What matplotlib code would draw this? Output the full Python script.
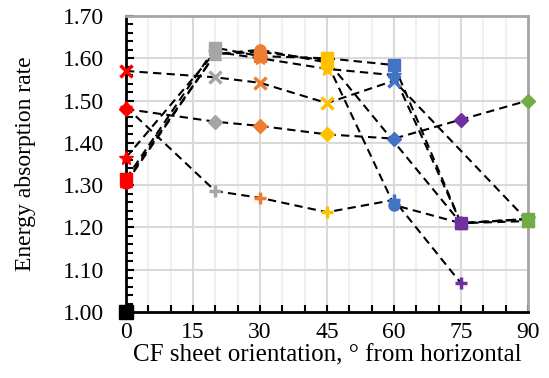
import matplotlib

matplotlib.use("Agg")
import matplotlib.pyplot as plt
import numpy as np
from matplotlib.ticker import MultipleLocator

# CF sheet orientation (deg from horizontal) and the colour used at each one
angles = [0, 20, 30, 45, 60, 75, 90]
angle_colours = ["#FF0000", "#A5A5A5", "#ED7D31", "#FFC000", "#4472C4", "#7030A0", "#70AD47"]

# energy absorption rate per configuration (None = no value)
diamond = [1.48, 1.45, 1.44, 1.42, 1.41, 1.455, 1.50]
square = [1.315, 1.625, 1.605, 1.60, 1.584, 1.21, 1.22]
triangle = [1.31, 1.61, 1.615, 1.595, None, 1.21, 1.215]
cross = [1.57, 1.555, 1.542, 1.494, 1.547, None, 1.215]
star = [1.365, 1.615, 1.60, 1.575, 1.56, 1.21, 1.22]
circle = [1.305, 1.61, 1.62, 1.59, 1.253, 1.21, 1.22]
plus = [1.485, 1.286, 1.27, 1.236, 1.265, 1.068, None]
reference = [1.00]

series = [
    (diamond, "D", 7),
    (square, "s", 8),
    (triangle, "^", 8),
    (cross, "x", 8),
    (star, "*", 10),
    (circle, "o", 8),
    (plus, "+", 8),
]

plt.rcParams["font.family"] = "Liberation Serif"

fig = plt.figure(figsize=(5.49, 3.78), dpi=100)
ax = fig.add_axes([0.2295, 0.1746, 0.7322, 0.7831])

for values, marker, size in series:
    xs = [a for a, v in zip(angles, values) if v is not None]
    ys = [v for v in values if v is not None]
    cs = [c for c, v in zip(angle_colours, values) if v is not None]
    ax.plot(xs, ys, color="black", linestyle=(0, (4, 2.5)), linewidth=1.5, zorder=3)
    for x, y, c in zip(xs, ys, cs):
        mew = 2.5 if marker in ("x", "+") else 1.0
        ax.plot(x, y, marker=marker, markersize=size, color=c, markeredgecolor=c,
                markeredgewidth=mew, linestyle="none", zorder=4, clip_on=False)

ax.plot([0], reference, marker="s", markersize=10, color="black",
        linestyle="none", zorder=5, clip_on=False)

ax.set_xlim(0, 90)
ax.set_ylim(1.00, 1.70)
ax.xaxis.set_major_locator(MultipleLocator(15))
ax.xaxis.set_minor_locator(MultipleLocator(5))
ax.yaxis.set_major_locator(MultipleLocator(0.1))
ax.yaxis.set_minor_locator(MultipleLocator(0.02))
ax.yaxis.set_major_formatter(lambda v, pos: f"{v:.2f}")

ax.grid(which="major", axis="both", color="#D9D9D9", linewidth=1.5, zorder=0)
ax.grid(which="minor", axis="x", color="#F0F0F0", linewidth=1.5, zorder=0)
ax.set_axisbelow(True)

ax.tick_params(which="both", direction="in", width=1.5, labelsize=17, colors="black")
ax.tick_params(axis="y", which="major", length=6, pad=16)
ax.tick_params(axis="y", which="minor", length=5)
ax.tick_params(axis="x", which="both", length=5, pad=7)

for side in ("left", "bottom"):
    ax.spines[side].set_color("black")
    ax.spines[side].set_linewidth(2)
for side in ("top", "right"):
    ax.spines[side].set_color("#A6A6A6")
    ax.spines[side].set_linewidth(2)

ax.set_xlabel("CF sheet orientation, ° from horizontal", fontsize=18, labelpad=1)
ax.set_ylabel("Energy absorption rate", fontsize=17, labelpad=19)

fig.savefig("out.png", dpi=100)
